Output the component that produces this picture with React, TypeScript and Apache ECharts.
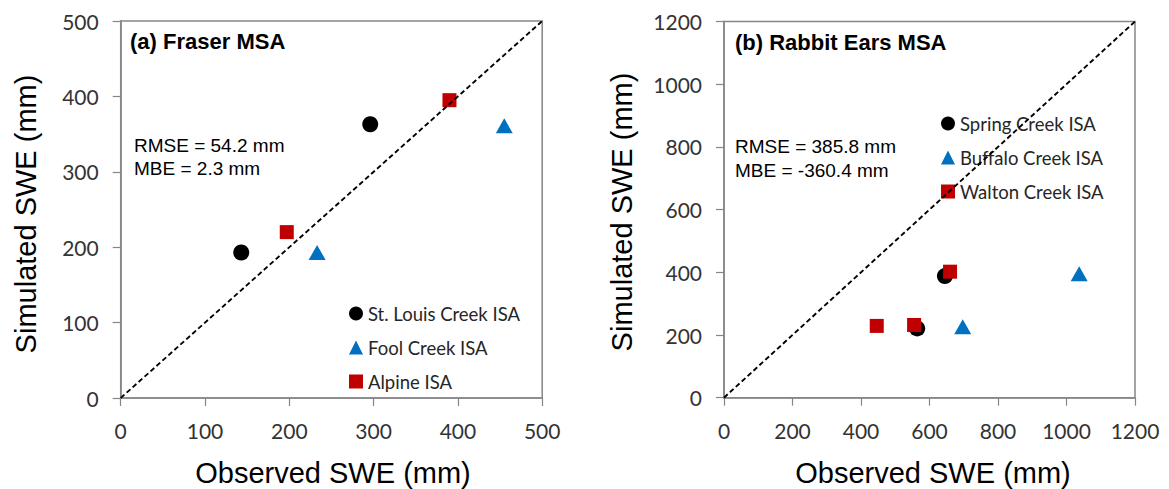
import React, { useEffect, useRef } from "react";
import * as echarts from "echarts";

// Panel (a) Fraser MSA: observed vs simulated SWE (mm)
const stLouisObs = [143, 296];
const stLouisSim = [193, 363];
const foolObs = [233, 455];
const foolSim = [193, 361];
const alpineObs = [197, 390];
const alpineSim = [220, 395];

// Panel (b) Rabbit Ears MSA
const springObs = [645, 564];
const springSim = [388, 221];
const buffaloObs = [1037, 697];
const buffaloSim = [395, 226];
const waltonObs = [660, 446, 555];
const waltonSim = [402, 229, 232];

const ticksA = [0, 100, 200, 300, 400, 500];
const ticksB = [0, 200, 400, 600, 800, 1000, 1200];

const statsA = ["RMSE = 54.2 mm", "MBE = 2.3 mm"];
const statsB = ["RMSE = 385.8 mm", "MBE = -360.4 mm"];

const BLACK = "#000000";
const BLUE = "#0070C0";
const RED = "#C00000";
const AXIS = "#868686";

const pair = (xs: number[], ys: number[]) => xs.map((x, i) => [x, ys[i]]);

const axisCommon = (ticks: number[]) => ({
  type: "value" as const,
  min: ticks[0],
  max: ticks[ticks.length - 1],
  interval: ticks[1] - ticks[0],
  splitLine: { show: false },
  axisLine: { show: true, lineStyle: { color: AXIS, width: 1.5 } },
  axisTick: { show: true, inside: false, length: 8, lineStyle: { color: AXIS, width: 1.2 } },
  axisLabel: {
    margin: 22,
    fontFamily: "Lato",
    fontSize: 21,
    color: "#333333",
    showMinLabel: true,
    showMaxLabel: true,
    formatter: (v: number) => String(v),
  },
});

export default function App() {
  const ref = useRef<HTMLDivElement>(null);

  useEffect(() => {
    if (!ref.current) return;
    const chart = echarts.init(ref.current, undefined, { renderer: "svg" });

    const scatter = (
      name: string,
      idx: number,
      data: number[][],
      symbol: string,
      size: number | number[],
      color: string
    ) => ({
      type: "scatter",
      name,
      xAxisIndex: idx,
      yAxisIndex: idx,
      data,
      symbol,
      symbolSize: size,
      itemStyle: { color, opacity: 1 },
      z: 3,
    });

    const diag = (idx: number, max: number) => ({
      type: "line",
      name: "1:1",
      xAxisIndex: idx,
      yAxisIndex: idx,
      data: [
        [0, 0],
        [max, max],
      ],
      showSymbol: false,
      symbol: "none",
      lineStyle: { color: "#000", width: 1.9, type: [5, 3] },
      z: 10,
      silent: true,
    });

    const legendBase = {
      orient: "vertical" as const,
      itemWidth: 14,
      itemHeight: 14,
      itemGap: 15,
      padding: 0,
      selectedMode: false,
      textStyle: { fontFamily: "Lato", fontSize: 18.5, lineHeight: 17, color: "#262626" },
    };

    const textEl = (
      text: string,
      x: number,
      y: number,
      font: string,
      align = "left",
      rotation = 0
    ) => ({
      type: "text",
      x,
      y,
      rotation,
      z: 20,
      style: { text, font, fill: "#000", align, verticalAlign: "middle" },
    });

    const statFont = "19px 'Liberation Sans', Arial, sans-serif";
    const titleFont = "bold 22px 'Liberation Sans', Arial, sans-serif";
    const axisFont = "29px 'Liberation Sans', Arial, sans-serif";

    chart.setOption({
      animation: false,
      backgroundColor: "#ffffff",
      grid: [
        { left: 120.7, top: 21, width: 421.5, height: 377, show: true, borderColor: AXIS, borderWidth: 1.5 },
        { left: 724, top: 21.5, width: 411, height: 376.2, show: true, borderColor: AXIS, borderWidth: 1.5 },
      ],
      xAxis: [
        { ...axisCommon(ticksA), gridIndex: 0 },
        { ...axisCommon(ticksB), gridIndex: 1 },
      ],
      yAxis: [
        { ...axisCommon(ticksA), gridIndex: 0 },
        { ...axisCommon(ticksB), gridIndex: 1 },
      ],
      legend: [
        {
          ...legendBase,
          left: 349,
          top: 304,
          data: ["St. Louis Creek ISA", "Fool Creek ISA", "Alpine ISA"],
        },
        {
          ...legendBase,
          left: 941,
          top: 114,
          data: ["Spring Creek ISA", "Buffalo Creek ISA", "Walton Creek ISA"],
        },
      ],
      series: [
        scatter("St. Louis Creek ISA", 0, pair(stLouisObs, stLouisSim), "circle", 16, BLACK),
        scatter("Fool Creek ISA", 0, pair(foolObs, foolSim), "triangle", [17, 15], BLUE),
        scatter("Alpine ISA", 0, pair(alpineObs, alpineSim), "rect", 14, RED),
        diag(0, ticksA[ticksA.length - 1]),
        scatter("Spring Creek ISA", 1, pair(springObs, springSim), "circle", 16, BLACK),
        scatter("Buffalo Creek ISA", 1, pair(buffaloObs, buffaloSim), "triangle", [17, 15], BLUE),
        scatter("Walton Creek ISA", 1, pair(waltonObs, waltonSim), "rect", 14, RED),
        diag(1, ticksB[ticksB.length - 1]),
      ],
      graphic: [
        textEl("(a) Fraser MSA", 130, 41, titleFont),
        textEl("(b) Rabbit Ears MSA", 735, 42, titleFont),
        textEl(statsA[0], 134, 145, statFont),
        textEl(statsA[1], 134, 168, statFont),
        textEl(statsB[0], 735, 146, statFont),
        textEl(statsB[1], 735, 170, statFont),
        textEl("Observed SWE (mm)", 333, 473, axisFont, "center"),
        textEl("Observed SWE (mm)", 933, 473, axisFont, "center"),
        textEl("Simulated SWE (mm)", 26, 214, axisFont, "center", Math.PI / 2),
        textEl("Simulated SWE (mm)", 622, 212, axisFont, "center", Math.PI / 2),
      ],
    });

    return () => chart.dispose();
  }, []);

  return (
    <div
      ref={ref}
      style={{ position: "fixed", left: 0, top: 0, width: 1169, height: 489, background: "#fff" }}
    />
  );
}
